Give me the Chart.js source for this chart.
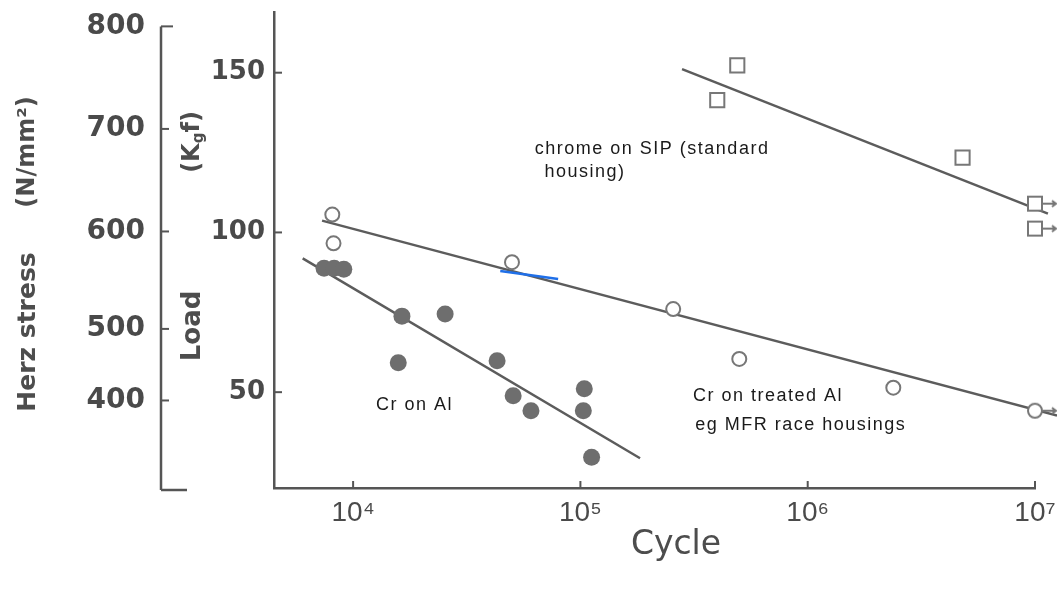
<!DOCTYPE html>
<html>
<head>
<meta charset="utf-8">
<title>Cycle vs load</title>
<script src="https://cdn.jsdelivr.net/npm/chart.js@4.4.1/dist/chart.umd.min.js"></script>
<style>
    html, body { margin: 0; padding: 0; background: #fff; }
    canvas { display: block; }
</style>
</head>
<body>
<canvas id="snChart" width="1057" height="589"></canvas>
<script>
// axis ticks
var cycleTicks = [1e4, 1e5, 1e6, 1e7];
var cycleTickLabels = ['10⁴', '10⁵', '10⁶', '10⁷'];
var loadTicks = [50, 100, 150];
var herzLabels = ['800', '700', '600', '500', '400'];
var herzAtLoad = [164.5, 132.4, 100.3, 69.8, 47.4];

// chrome on SIP (open squares)
var sipCycles = [4.0e5, 4.9e5, 4.8e6, 1.0e7, 1.0e7];
var sipLoad = [141.4, 152.3, 123.4, 109.0, 101.2];
var sipRunout = [0, 0, 0, 1, 1];
var sipFitCycles = [2.8e5, 1.14e7];
var sipFitLoad = [151.1, 105.9];

// Cr on treated Al (open circles)
var treatedCycles = [8.1e3, 8.2e3, 5.0e4, 2.56e5, 5.0e5, 2.38e6, 1.0e7];
var treatedLoad = [105.6, 96.6, 90.7, 76.0, 60.4, 51.4, 44.2];
var treatedRunout = [0, 0, 0, 0, 0, 0, 1];
var treatedFitCycles = [7.3e3, 1.25e7];
var treatedFitLoad = [103.7, 42.7];

// Cr on Al (filled circles)
var alCycles = [7.45e3, 8.25e3, 9.1e3, 1.58e4, 1.64e4, 2.54e4, 4.3e4, 5.06e4, 6.06e4, 1.04e5, 1.03e5, 1.12e5];
var alLoad = [88.8, 88.8, 88.5, 59.2, 73.8, 74.5, 59.8, 48.9, 44.2, 51.1, 44.2, 29.6];
var alFitCycles = [6.0e3, 1.83e5];
var alFitLoad = [91.9, 29.3];

// blue pen stroke on the scan
var blueCycles = [4.44e4, 7.98e4];
var blueLoad = [87.9, 85.4];

// notes written on the plot
var noteText = ['chrome on SIP (standard', ' housing)', 'Cr on Al', 'Cr on treated Al', 'eg MFR race housings'];
var noteCycles = [6.3e4, 6.5e4, 1.26e4, 3.13e5, 3.2e5];
var noteLoad = [126.2, 119.0, 46.1, 48.9, 39.6];

var ink = '#555555';
var markEdge = '#777777';

function pts(xs, ys) {
    return xs.map(function (x, i) { return { x: x, y: ys[i] }; });
}

// marker with a run-out arrow pointing right
function runoutMark(shape) {
    var c = document.createElement('canvas');
    c.width = 50;
    c.height = 24;
    var g = c.getContext('2d');
    g.strokeStyle = markEdge;
    g.lineWidth = 2;
    g.fillStyle = '#fff';
    if (shape === 'rect') {
        g.fillRect(18, 5, 14, 14);
        g.strokeRect(18, 5, 14, 14);
    } else {
        g.beginPath();
        g.arc(25, 12, 7, 0, Math.PI * 2);
        g.fill();
        g.stroke();
    }
    g.beginPath();
    g.moveTo(33, 12); g.lineTo(46, 12);
    g.moveTo(42, 9); g.lineTo(46, 12); g.lineTo(42, 15);
    g.stroke();
    return c;
}
var squareArrow = runoutMark('rect');
var circleArrow = runoutMark('circle');

var decor = {
    id: 'decor',
    afterDraw: function (chart) {
        var ctx = chart.ctx;
        var area = chart.chartArea;
        var sx = chart.scales.x, sy = chart.scales.y, sy2 = chart.scales.y2;

        function seg(x1, y1, x2, y2) {
            ctx.beginPath();
            ctx.moveTo(x1, y1);
            ctx.lineTo(x2, y2);
            ctx.stroke();
        }
        function vtext(str, cx, cy, font) {
            ctx.save();
            ctx.translate(cx, cy);
            ctx.rotate(-Math.PI / 2);
            ctx.font = font;
            ctx.textAlign = 'center';
            ctx.textBaseline = 'middle';
            ctx.fillText(str, 0, 0);
            ctx.restore();
        }

        ctx.save();
        ctx.strokeStyle = ink;
        ctx.lineWidth = 2;

        // inward ticks
        loadTicks.forEach(function (v) {
            var py = sy.getPixelForValue(v);
            seg(area.left, py, area.left + 8, py);
        });
        cycleTicks.forEach(function (v) {
            var px = sx.getPixelForValue(v);
            seg(px, area.bottom, px, area.bottom - 7);
        });

        // outer Herz stress axis
        var ox = sy2.right;
        var top = sy2.getPixelForValue(herzAtLoad[0]);
        var foot = area.bottom + 2;
        ctx.lineWidth = 2.5;
        seg(ox, top, ox, foot);
        seg(ox, foot, ox + 26, foot);
        ctx.lineWidth = 2;
        herzAtLoad.forEach(function (v, i) {
            var py = sy2.getPixelForValue(v);
            seg(ox, py, ox + (i === 0 ? 12 : 8), py);
        });

        // axis titles
        ctx.fillStyle = '#4d4d4d';
        ctx.font = '33px "DejaVu Sans", sans-serif';
        ctx.textAlign = 'center';
        ctx.textBaseline = 'middle';
        ctx.fillText('Cycle', 676, 545);

        vtext('Herz stress', 28, 332, 'bold 25px "DejaVu Sans", sans-serif');
        vtext('(N/mm²)', 28, 152, 'bold 24px "DejaVu Sans", sans-serif');
        vtext('Load', 193, 326, 'bold 26px "DejaVu Sans", sans-serif');

        // (Kgf) with subscript g
        ctx.save();
        ctx.translate(190, 142);
        ctx.rotate(-Math.PI / 2);
        ctx.textAlign = 'left';
        ctx.textBaseline = 'alphabetic';
        var big = 'bold 24px "DejaVu Sans", sans-serif';
        var small = 'bold 15px "DejaVu Sans", sans-serif';
        ctx.font = big;
        var wa = ctx.measureText('(K').width;
        var wc = ctx.measureText('f)').width;
        ctx.font = small;
        var wb = ctx.measureText('g').width;
        var x0 = -(wa + wb + wc) / 2;
        ctx.font = big;
        ctx.fillText('(K', x0, 9);
        ctx.font = small;
        ctx.fillText('g', x0 + wa, 13);
        ctx.font = big;
        ctx.fillText('f)', x0 + wa + wb, 9);
        ctx.restore();

        // notes
        ctx.fillStyle = '#1a1a1a';
        ctx.font = '18px "Liberation Sans", Arial, sans-serif';
        ctx.letterSpacing = '1.5px';
        ctx.textAlign = 'left';
        ctx.textBaseline = 'middle';
        noteText.forEach(function (t, i) {
            ctx.fillText(t, sx.getPixelForValue(noteCycles[i]), sy.getPixelForValue(noteLoad[i]));
        });
        ctx.restore();
    }
};

var tickFont = { family: '"DejaVu Sans", sans-serif', weight: 'bold' };

var ctx = document.getElementById('snChart').getContext('2d');
var snChart = new Chart(ctx, {
    type: 'scatter',
    data: {
        datasets: [
            {
                label: 'chrome on SIP',
                data: pts(sipCycles, sipLoad),
                pointStyle: function (c) { return sipRunout[c.dataIndex] ? squareArrow : 'rect'; },
                pointRadius: 10,
                pointBorderWidth: 2,
                pointBorderColor: markEdge,
                pointBackgroundColor: '#fff',
                clip: false
            },
            {
                label: 'Cr on treated Al',
                data: pts(treatedCycles, treatedLoad),
                pointStyle: function (c) { return treatedRunout[c.dataIndex] ? circleArrow : 'circle'; },
                pointRadius: 7,
                pointBorderWidth: 2,
                pointBorderColor: markEdge,
                pointBackgroundColor: '#fff',
                clip: false
            },
            {
                label: 'Cr on Al',
                data: pts(alCycles, alLoad),
                pointStyle: 'circle',
                pointRadius: 8.5,
                pointBorderWidth: 0,
                pointBackgroundColor: '#6e6e6e',
                clip: false
            },
            {
                label: 'blue mark',
                data: pts(blueCycles, blueLoad),
                showLine: true,
                pointRadius: 0,
                borderColor: '#1f6fe8',
                borderWidth: 2.5,
                clip: false
            },
            {
                label: 'SIP fit',
                data: pts(sipFitCycles, sipFitLoad),
                showLine: true,
                pointRadius: 0,
                borderColor: '#5c5c5c',
                borderWidth: 2.5,
                clip: false
            },
            {
                label: 'treated fit',
                data: pts(treatedFitCycles, treatedFitLoad),
                showLine: true,
                pointRadius: 0,
                borderColor: '#5c5c5c',
                borderWidth: 2.5,
                clip: false
            },
            {
                label: 'Al fit',
                data: pts(alFitCycles, alFitLoad),
                showLine: true,
                pointRadius: 0,
                borderColor: '#5c5c5c',
                borderWidth: 2.5,
                clip: false
            }
        ]
    },
    options: {
        responsive: false,
        animation: false,
        devicePixelRatio: 1,
        layout: { padding: { top: 10, right: 22, bottom: 0, left: 0 } },
        plugins: {
            legend: { display: false },
            tooltip: { enabled: false }
        },
        scales: {
            x: {
                type: 'logarithmic',
                min: 4487,
                max: 1e7,
                grid: { display: false, drawTicks: false },
                border: { display: true, color: ink, width: 2.5 },
                ticks: {
                    autoSkip: false,
                    maxRotation: 0,
                    padding: 8,
                    color: '#4a4a4a',
                    font: { family: '"Liberation Sans", Arial, sans-serif', size: 28 },
                    callback: function (v, i) { return cycleTickLabels[i]; }
                },
                afterBuildTicks: function (s) {
                    s.ticks = cycleTicks.map(function (v) { return { value: v }; });
                },
                afterFit: function (s) {
                    s.height = 101;
                    s.paddingLeft = 0;
                    s.paddingRight = 0;
                }
            },
            y: {
                type: 'linear',
                position: 'left',
                weight: 0,
                min: 20,
                max: 169,
                grid: { display: false, drawTicks: false },
                border: { display: true, color: ink, width: 2.5 },
                ticks: {
                    padding: 9,
                    color: '#4a4a4a',
                    font: Object.assign({ size: 26 }, tickFont)
                },
                afterBuildTicks: function (s) {
                    s.ticks = loadTicks.map(function (v) { return { value: v }; });
                },
                afterFit: function (s) {
                    s.width = 113;
                    s.paddingTop = 0;
                    s.paddingBottom = 0;
                }
            },
            y2: {
                type: 'linear',
                position: 'left',
                weight: 1,
                min: 20,
                max: 169,
                grid: { display: false, drawTicks: false },
                border: { display: false },
                ticks: {
                    padding: 16,
                    color: '#4a4a4a',
                    font: Object.assign({ size: 28 }, tickFont),
                    callback: function (v, i) { return herzLabels[i]; }
                },
                afterBuildTicks: function (s) {
                    s.ticks = herzAtLoad.map(function (v) { return { value: v }; });
                },
                afterFit: function (s) {
                    s.width = 161;
                    s.paddingTop = 0;
                    s.paddingBottom = 0;
                }
            }
        }
    },
    plugins: [decor]
});
</script>
</body>
</html>
